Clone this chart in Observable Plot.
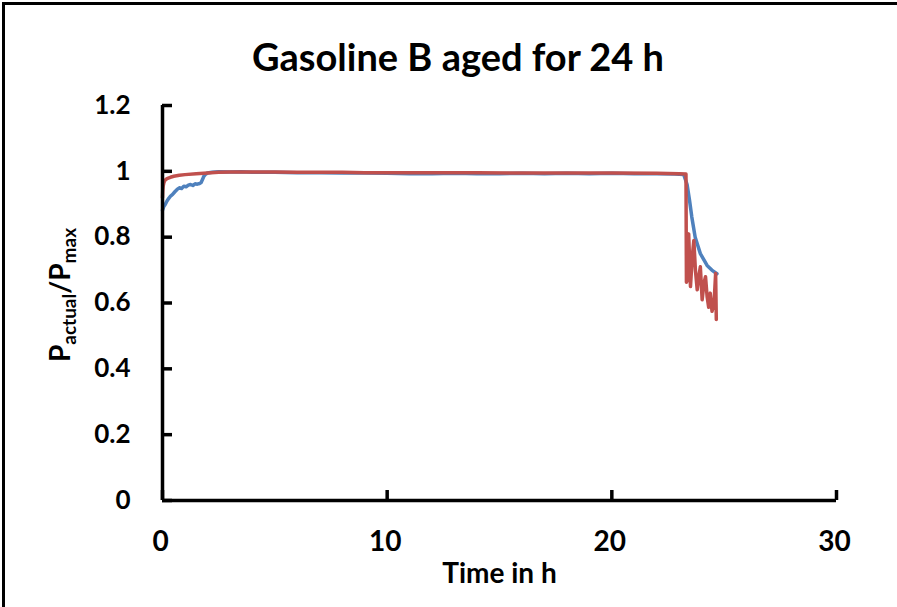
<!DOCTYPE html>
<html><head><meta charset="utf-8">
<script src="https://cdn.jsdelivr.net/npm/d3@7"></script>
<script src="https://cdn.jsdelivr.net/npm/@observablehq/plot@0.6"></script>
<style>
body{margin:0;background:#fff;}
#wrap{position:relative;width:897px;height:607px;overflow:hidden;background:#fff;}
#border{position:absolute;left:2px;top:2px;width:920px;height:630px;border-left:3px solid #000;border-top:3px solid #000;pointer-events:none;}
#wrap svg{position:absolute;left:0;top:0;}
</style></head><body><div id="wrap"><div id="border"></div></div>
<script>
const title = "Gasoline B aged for 24 h";
const xLabel = "Time in h";
const xTicks = [0, 10, 20, 30];
const yTicks = [0, 0.2, 0.4, 0.6, 0.8, 1, 1.2];

const blueTime = [0, 0.05, 0.12, 0.2, 0.28, 0.36, 0.45, 0.55, 0.65, 0.75, 0.85, 0.95, 1.05, 1.15, 1.25, 1.35, 1.45, 1.55, 1.65, 1.72, 1.78, 1.84, 1.9, 2.0, 2.2, 2.5, 3.0, 3.5, 4, 5, 6, 7, 8, 9, 10, 11, 12, 13, 14, 15, 16, 17, 18, 19, 20, 21, 22, 22.8, 23.2, 23.35, 23.46, 23.56, 23.71, 23.94, 24.24, 24.45, 24.68];
const blueRatio = [0.882, 0.892, 0.899, 0.91, 0.918, 0.925, 0.93, 0.938, 0.945, 0.95, 0.948, 0.955, 0.953, 0.958, 0.96, 0.957, 0.962, 0.961, 0.963, 0.966, 0.975, 0.985, 0.99, 0.995, 0.997, 0.999, 0.998, 0.999, 0.997, 0.997, 0.996, 0.996, 0.995, 0.995, 0.994, 0.993, 0.993, 0.994, 0.993, 0.993, 0.994, 0.993, 0.994, 0.993, 0.994, 0.993, 0.993, 0.992, 0.99, 0.96, 0.911, 0.861, 0.80, 0.75, 0.714, 0.70, 0.689];

const redTime = [0, 0.01, 0.03, 0.06, 0.1, 0.2, 0.35, 0.5, 0.75, 1.0, 1.5, 2.0, 2.5, 3, 4, 5, 6, 7, 8, 9, 10, 12, 14, 16, 18, 20, 22, 23.0, 23.3, 23.32, 23.36, 23.42, 23.5, 23.58, 23.65, 23.72, 23.8, 23.87, 23.94, 24.02, 24.1, 24.17, 24.24, 24.31, 24.38, 24.46, 24.55, 24.62, 24.65];
const redRatio = [0.92, 0.94, 0.955, 0.965, 0.972, 0.978, 0.982, 0.985, 0.988, 0.99, 0.993, 0.995, 0.997, 0.998, 0.998, 0.998, 0.997, 0.997, 0.997, 0.996, 0.996, 0.996, 0.996, 0.995, 0.995, 0.995, 0.994, 0.993, 0.992, 0.663, 0.67, 0.81, 0.65, 0.74, 0.79, 0.70, 0.64, 0.68, 0.71, 0.61, 0.66, 0.68, 0.62, 0.587, 0.63, 0.575, 0.60, 0.69, 0.55];

const blue = blueTime.map((t, i) => ({t, v: blueRatio[i]}));
const red = redTime.map((t, i) => ({t, v: redRatio[i]}));

const fmt = d3.format("~g");
const plot = Plot.plot({
  width: 897, height: 607,
  marginLeft: 162, marginRight: 61, marginTop: 105, marginBottom: 107,
  style: {fontFamily: "Lato, sans-serif", fontSize: "26px", fontWeight: "bold", color: "#000", background: "transparent", overflow: "visible"},
  x: {domain: [0, 30], ticks: xTicks},
  y: {domain: [0, 1.2], ticks: yTicks},
  marks: [
    Plot.line(blue, {x: "t", y: "v", stroke: "#4F81BD", strokeWidth: 3.5}),
    Plot.line(red, {x: "t", y: "v", stroke: "#C0504D", strokeWidth: 3.5}),
    Plot.axisY(yTicks, {anchor: "left", tickSize: 0, tickPadding: 32, tickFormat: fmt, label: null}),
    Plot.axisY(yTicks, {anchor: "left", tickSize: 10, dx: 10, strokeWidth: 3.5, tickFormat: () => "", label: null}),
    Plot.axisX(xTicks, {anchor: "bottom", tickSize: 0, tickPadding: 31, tickFormat: fmt, label: xLabel, labelAnchor: "center", labelOffset: 82, labelArrow: "none", fontSize: 28, dx: -2}),
    Plot.axisX(xTicks, {anchor: "bottom", tickSize: 10, dy: -10, strokeWidth: 3.5, tickFormat: () => "", label: null}),
    Plot.ruleX([0], {stroke: "#000", strokeWidth: 3.5}),
    Plot.ruleY([0], {stroke: "#000", strokeWidth: 3.5})
  ]
});

const svg = d3.select(plot);
svg.append("text")
  .attr("x", 458).attr("y", 71)
  .attr("text-anchor", "middle")
  .attr("font-size", 38).attr("font-weight", "bold")
  .text(title);

const yl = svg.append("text")
  .attr("transform", "translate(70,295) rotate(-90)")
  .attr("text-anchor", "middle")
  .attr("font-size", 28).attr("font-weight", "bold");
yl.append("tspan").text("P");
yl.append("tspan").attr("font-size", 19).attr("dy", 6).text("actual");
yl.append("tspan").attr("dy", -6).text("/P");
yl.append("tspan").attr("font-size", 19).attr("dy", 6).text("max");

document.getElementById("wrap").appendChild(plot);
</script>
</body></html>
